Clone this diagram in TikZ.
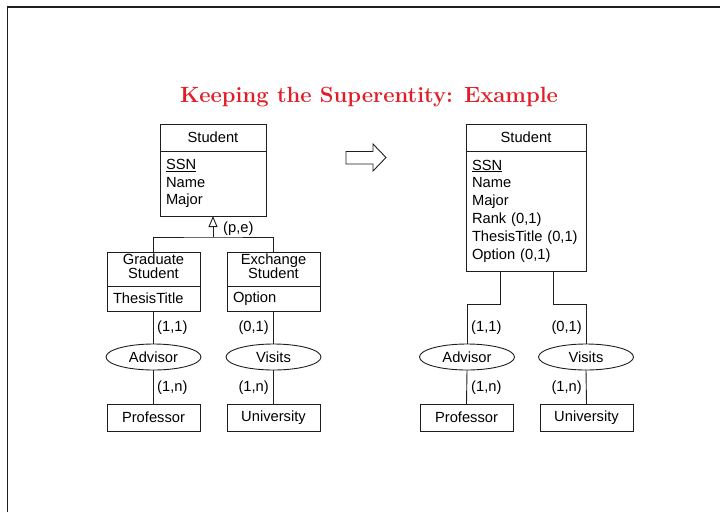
\documentclass[tikz,border=0pt]{standalone}
\usepackage{fontspec}
\setsansfont{Liberation Sans}
\usetikzlibrary{shapes.geometric,arrows.meta}
\definecolor{titlered}{RGB}{225,30,40}
\definecolor{ink}{RGB}{30,30,30}
\begin{document}
\begin{tikzpicture}[x=1pt,y=-1pt,
  every node/.style={font=\sffamily\fontsize{14.7}{17.8}\selectfont, text=black},
  ent/.style={draw=ink, line width=0.9pt, rectangle, inner sep=0pt, outer sep=0pt},
  attrs/.style={ent, align=left, inner xsep=6pt},
  subhdr/.style={ent, minimum width=93pt, minimum height=34pt, align=center, font=\sffamily\fontsize{14.7}{14}\selectfont, text depth=6pt},
  rel/.style={draw=ink, line width=0.9pt, ellipse, minimum width=95pt, minimum height=26pt, inner sep=0pt, outer sep=0pt},
  card/.style={inner sep=0pt},
  conn/.style={draw=ink, line width=0.9pt}]
\useasboundingbox (0,0) rectangle (720,512);
\draw[ink, line width=1.3pt] (7.5,512) -- (7.5,7) -- (720,7);

\node[font=\rmfamily\bfseries\fontsize{22}{26}\selectfont, text=titlered] (title) at (369,97) {Keeping the Superentity: Example};

% ---------- left diagram ----------
\node[ent, minimum width=106pt, minimum height=27pt] (hdrL) at (213,137.5) {Student};
\node[attrs, minimum width=106pt, minimum height=65pt, text width=94pt] (bodyL) at (213,183.5) {\underline{SSN}\\Name\\Major};

\node[subhdr] (gradH) at (153.5,269) {Graduate\\Student};
\node[attrs, minimum width=93pt, minimum height=25pt, text width=81pt] (gradB) at (153.5,298.5) {ThesisTitle};
\node[subhdr] (exH) at (273.5,269) {Exchange\\Student};
\node[attrs, minimum width=93pt, minimum height=25pt, text width=81pt] (exB) at (273.5,298.5) {Option};

\coordinate (isa) at (213,237);
\draw[conn, -{Triangle[open, width=9pt, length=11pt]}] (isa) -- (bodyL.south);
\draw[conn] (gradH.north) |- (isa) -| (exH.north);
\node[card, anchor=west] (pe) at (223,229) {(p,e)};

\node[rel] (advL) at (153.5,357) {Advisor};
\node[rel] (visL) at (273.5,357) {Visits};
\node[ent, minimum width=93pt, minimum height=27pt] (profL) at (153.5,417.5) {Professor};
\node[ent, minimum width=93pt, minimum height=27pt] (uniL) at (273.5,417.5) {University};

\draw[conn] (gradB.south) -- (advL.north);
\draw[conn] (advL.south) -- (profL.north);
\draw[conn] (exB.south) -- (visL.north);
\draw[conn] (visL.south) -- (uniL.north);

\node[card, anchor=west] (cL1) at (157,328) {(1,1)};
\node[card, anchor=west] (cL2) at (157,388) {(1,n)};
\node[card, anchor=east] (cL3) at (269,328) {(0,1)};
\node[card, anchor=east] (cL4) at (269,388) {(1,n)};

% ---------- arrow ----------
\draw[ink, line width=0.9pt, fill=white] (346,151.5) -- (373,151.5) -- (373,144) -- (386,157.5) -- (373,171) -- (373,164) -- (346,164) -- cycle;

% ---------- right diagram ----------
\node[ent, minimum width=120pt, minimum height=27pt] (hdrR) at (526,137.5) {Student};
\node[attrs, minimum width=120pt, minimum height=120pt, text width=108pt] (bodyR) at (526,211) {\underline{SSN}\\Name\\Major\\Rank (0,1)\\ThesisTitle (0,1)\\Option (0,1)};

\node[rel] (advR) at (467,357) {Advisor};
\node[rel] (visR) at (586,357) {Visits};
\node[ent, minimum width=93pt, minimum height=27pt] (profR) at (466.5,417.5) {Professor};
\node[ent, minimum width=93pt, minimum height=27pt] (uniR) at (586.5,417.5) {University};

\draw[conn] ([xshift=-26pt]bodyR.south) -- ++(0,33) -| (advR.north);
\draw[conn] ([xshift=27pt]bodyR.south) -- ++(0,33) -| (visR.north);
\draw[conn] (advR.south) -- (profR.north);
\draw[conn] (visR.south) -- (uniR.north);

\node[card, anchor=west] (cR1) at (471,328) {(1,1)};
\node[card, anchor=west] (cR2) at (471,388) {(1,n)};
\node[card, anchor=east] (cR3) at (582,328) {(0,1)};
\node[card, anchor=east] (cR4) at (582,388) {(1,n)};
\end{tikzpicture}
\end{document}
